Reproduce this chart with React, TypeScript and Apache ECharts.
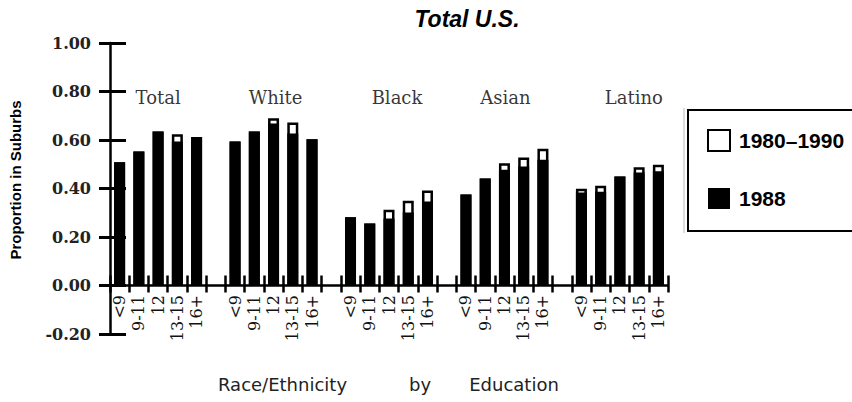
import React, { useEffect, useRef } from "react";
import * as echarts from "echarts";

const educationLevels = ["<9", "9-11", "12", "13-15", "16+"];
const groups = ["Total", "White", "Black", "Asian", "Latino"];
const yTicks = [-0.2, 0.0, 0.2, 0.4, 0.6, 0.8, 1.0];

// values in group order (Total, White, Black, Asian, Latino), 5 education levels each
const share1980to1990 = [
  0.508, 0.553, 0.635, 0.624, 0.612,
  0.594, 0.635, 0.69, 0.672, 0.603,
  0.281, 0.256, 0.312, 0.349, 0.392,
  0.375, 0.441, 0.504, 0.528, 0.564,
  0.399, 0.411, 0.449, 0.488, 0.498,
];
const share1988 = [
  0.508, 0.553, 0.635, 0.594, 0.612,
  0.594, 0.635, 0.668, 0.627, 0.603,
  0.281, 0.256, 0.276, 0.301, 0.346,
  0.375, 0.441, 0.477, 0.491, 0.519,
  0.383, 0.387, 0.449, 0.466, 0.471,
];
const groupLabelValue = 0.775;

// layout helpers (not data)
const groupLabelOffsets = [0, 2, 8, 1, 14];

export default function App() {
  const ref = useRef<HTMLDivElement>(null);

  useEffect(() => {
    document.body.style.margin = "0";
    if (!ref.current) return;
    const chart = echarts.init(ref.current, null, { renderer: "svg" });

    const categories: string[] = [];
    const s8090: (number | null)[] = [];
    const s88: (number | null)[] = [];
    const labelPts: any[] = [];
    groups.forEach((g, gi) => {
      if (gi > 0) {
        categories.push("");
        s8090.push(null);
        s88.push(null);
      }
      const start = categories.length;
      educationLevels.forEach((lvl, li) => {
        categories.push(lvl);
        s8090.push(share1980to1990[gi * 5 + li]);
        s88.push(share1988[gi * 5 + li]);
      });
      labelPts.push({
        value: [start + 2, groupLabelValue],
        name: g,
        label: { offset: [groupLabelOffsets[gi], 0] },
      });
    });

    const serif = "DejaVu Serif";
    const sans = "Liberation Sans";
    const gridLeft = 110;
    const gridRight = 184;

    chart.setOption({
      animation: false,
      backgroundColor: "#fff",
      grid: [
        { left: gridLeft, right: gridRight, top: 43, bottom: 68, containLabel: false },
        // helper grid whose bottom edge coincides with the zero line, used for category labels
        { left: gridLeft, right: gridRight, top: 43, bottom: 117, containLabel: false },
      ],
      xAxis: [
        {
          type: "category",
          data: categories,
          position: "bottom",
          axisLine: { onZero: true, lineStyle: { color: "#000", width: 2.5 } },
          axisTick: {
            show: true,
            interval: 0,
            alignWithLabel: false,
            length: 7,
            lineStyle: { color: "#000", width: 2.5 },
          },
          axisLabel: { show: false },
          splitLine: { show: false },
        },
        {
          type: "category",
          data: categories,
          position: "bottom",
          axisLine: { show: false, onZero: true, onZeroAxisIndex: 0 },
          axisTick: {
            show: true,
            interval: 0,
            alignWithLabel: false,
            inside: true,
            length: 10,
            lineStyle: { color: "#000", width: 2.5 },
          },
          axisLabel: { show: false },
          splitLine: { show: false },
        },
        {
          type: "category",
          gridIndex: 1,
          data: categories,
          position: "bottom",
          axisLine: { show: false, onZero: false },
          axisTick: { show: false },
          axisLabel: {
            interval: 0,
            rotate: 90,
            margin: 10,
            fontFamily: serif,
            fontSize: 16,
            color: "#111",
          },
          splitLine: { show: false },
        },
      ],
      yAxis: [
        {
          type: "value",
          min: -0.2,
          max: 1.0,
          interval: 0.2,
          position: "left",
          axisLine: { show: true, lineStyle: { color: "#000", width: 2.5 } },
          axisTick: { show: true, length: 11, lineStyle: { color: "#000", width: 3 } },
          axisLabel: {
            margin: 19,
            fontFamily: serif,
            fontWeight: "bold",
            fontSize: 16,
            color: "#222",
            formatter: (v: number) => {
              const m = yTicks.find((t) => Math.abs(t - v) < 1e-6);
              return (m !== undefined ? m : v).toFixed(2);
            },
          },
          splitLine: { show: false },
        },
        {
          type: "value",
          min: -0.2,
          max: 1.0,
          interval: 0.2,
          position: "left",
          axisLine: { show: false },
          axisTick: { show: true, inside: true, length: 16, lineStyle: { color: "#000", width: 3 } },
          axisLabel: { show: false },
          splitLine: { show: false },
        },
        {
          type: "value",
          gridIndex: 1,
          min: 0,
          max: 1,
          show: false,
        },
      ],
      legend: {
        orient: "vertical",
        left: 702,
        top: 124,
        itemWidth: 22,
        itemHeight: 21,
        itemGap: 36,
        icon: "rect",
        textStyle: {
          fontFamily: sans,
          fontWeight: "bold",
          fontSize: 21,
          color: "#000",
          padding: [0, 0, 0, 4],
        },
        data: [
          { name: "1980–1990", itemStyle: { color: "#fff", borderColor: "#000", borderWidth: 2 } },
          { name: "1988", itemStyle: { color: "#000", borderWidth: 0 } },
        ],
      },
      series: [
        {
          name: "1980–1990",
          type: "bar",
          data: s8090,
          barWidth: 11,
          barGap: "-100%",
          itemStyle: { color: "#fff", borderColor: "#000", borderWidth: 2.5 },
        },
        {
          name: "1988",
          type: "bar",
          data: s88,
          barWidth: 11,
          barGap: "-100%",
          itemStyle: { color: "#000", borderColor: "#000", borderWidth: 2.5 },
        },
        {
          name: "groupLabels",
          type: "scatter",
          data: labelPts,
          symbolSize: 1,
          itemStyle: { color: "rgba(0,0,0,0)" },
          silent: true,
          label: {
            show: true,
            position: "inside",
            formatter: (p: any) => p.name,
            fontFamily: serif,
            fontSize: 18,
            color: "#000",
          },
        },
      ],
      graphic: [
        {
          type: "text",
          x: 467,
          y: 19,
          style: {
            text: "Total U.S.",
            fontFamily: sans,
            fontWeight: "bold",
            fontStyle: "italic",
            fontSize: 23,
            fill: "#000",
            align: "center",
            verticalAlign: "middle",
          },
        },
        {
          type: "text",
          x: 15,
          y: 180,
          rotation: Math.PI / 2,
          style: {
            text: "Proportion in Suburbs",
            fontFamily: sans,
            fontWeight: "bold",
            fontSize: 15,
            fill: "#000",
            align: "center",
            verticalAlign: "middle",
          },
        },
        {
          type: "text",
          x: 218,
          y: 384,
          style: {
            text: "Race/Ethnicity",
            fontFamily: "DejaVu Sans",
            fontSize: 18,
            fill: "#222",
            align: "left",
            verticalAlign: "middle",
          },
        },
        {
          type: "text",
          x: 420,
          y: 384,
          style: {
            text: "by",
            fontFamily: "DejaVu Sans",
            fontSize: 18,
            fill: "#222",
            align: "center",
            verticalAlign: "middle",
          },
        },
        {
          type: "text",
          x: 514,
          y: 384,
          style: {
            text: "Education",
            fontFamily: "DejaVu Sans",
            fontSize: 18,
            fill: "#222",
            align: "center",
            verticalAlign: "middle",
          },
        },
        {
          type: "line",
          shape: { x1: 684, y1: 108, x2: 684, y2: 233 },
          style: { stroke: "#bbb", lineWidth: 1 },
        },
        {
          type: "rect",
          shape: { x: 688, y: 110, width: 300, height: 121 },
          style: { fill: "none", stroke: "#000", lineWidth: 2 },
        },
      ],
    });

    return () => chart.dispose();
  }, []);

  return <div ref={ref} style={{ width: 852, height: 402 }} />;
}
